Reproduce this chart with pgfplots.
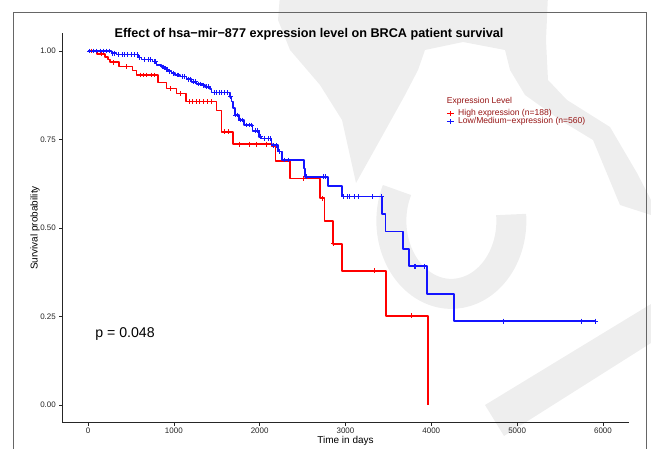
\documentclass[border=0pt]{standalone}
\usepackage{fontspec}
\setmainfont{Liberation Sans}
\usepackage{pgfplots}
\pgfplotsset{compat=1.18}
\definecolor{legred}{RGB}{150,20,20}
\definecolor{wmgray}{RGB}{238,238,238}
\definecolor{kmred}{RGB}{255,0,0}
\definecolor{kmblue}{RGB}{20,20,255}

\pgfplotstableread{
t s
0 1.0
108 0.992
200 0.984
236 0.976
256 0.968
364 0.956
519 0.945
566 0.932
818 0.911
915 0.894
1031 0.880
1140 0.857
1496 0.832
1555 0.772
1690 0.737
2140 0.730
2186 0.690
2355 0.640
2706 0.584
2756 0.519
2853 0.455
2961 0.379
3473 0.252
3965 0.0
}\highexpr

\pgfplotstableread{
t s
0 1.0
275 0.994
333 0.990
585 0.982
624 0.976
752 0.970
798 0.960
857 0.955
895 0.948
934 0.943
973 0.937
1012 0.932
1070 0.928
1147 0.920
1205 0.913
1264 0.907
1330 0.903
1360 0.899
1419 0.892
1438 0.883
1651 0.871
1670 0.857
1690 0.838
1709 0.819
1759 0.805
1814 0.791
1915 0.775
1992 0.758
2019 0.753
2136 0.734
2213 0.716
2263 0.692
2515 0.668
2531 0.645
2794 0.619
2961 0.589
3426 0.540
3465 0.490
3670 0.440
3740 0.392
3948 0.314
4267 0.237
5915 0.237
}\lowexpr

\pgfplotsset{
  kmcurve/.style={solid, const plot, no markers, line width=1.7bp, line join=round},
  censor/.style={only marks, mark=+, mark size=2.4bp, line width=0.9bp, forget plot},
}

\begin{document}
\begin{tikzpicture}
% light watermark behind the chart
\fill[wmgray] (356bp,-183bp) -- (342bp,-120bp) -- (320bp,-85bp) -- (290bp,-50bp) -- (278bp,-20bp)
  -- (280bp,5bp) -- (548bp,5bp) -- (546bp,-40bp) -- (548bp,-80bp) -- (567bp,-100bp) -- (610bp,-127bp)
  -- (637bp,-173bp) -- (651bp,-200bp) -- (651bp,-215bp) -- (620bp,-205bp) -- (593bp,-140bp)
  -- (560bp,-120bp) -- (525bp,-95bp) -- (510bp,-70bp) -- (505bp,-50bp) -- (463bp,-42bp)
  -- (425bp,-50bp) -- (418bp,-70bp) -- (405bp,-95bp) -- (380bp,-140bp) -- cycle;
\draw[wmgray, line width=30bp] (397bp,-190bp) arc[start angle=155, end angle=365, x radius=60bp, y radius=73bp];
\fill[wmgray] (485bp,-405bp) -- (651bp,-304bp) -- (651bp,-343bp) -- (504bp,-436bp) -- cycle;
% outer frame of the figure
\draw[black!60, line width=0.9bp] (13bp,-470bp) -- (13bp,-12bp) -- (646bp,-12bp) -- (646bp,-470bp);

\begin{axis}[
  at={(62.3bp,-422.7bp)}, anchor=south west,
  scale only axis, width=566.4bp, height=389.4bp,
  xmin=-300, xmax=6300, ymin=-0.05, ymax=1.05,
  axis x line=bottom, axis y line=left,
  axis line style={-, black!85, line width=0.6bp},
  xtick={0,1000,...,6000}, ytick={0,0.25,0.5,0.75,1},
  tick align=outside, major tick length=3bp,
  tick style={black!85, line width=0.6bp},
  ticklabel style={font=\fontsize{8}{9}\selectfont, text=black!85},
  /pgf/number format/assume math mode=true,
  scaled ticks=false,
  x tick label style={yshift=1bp, /pgf/number format/set thousands separator={}},
  y tick label style={/pgf/number format/.cd, fixed, fixed zerofill, precision=2},
  clip=false,
  legend style={at={(0.6774,0.807)}, anchor=north west, draw=none, fill=none,
    font=\fontsize{8.6}{9}\selectfont, text=legred, inner sep=0pt, row sep=-1bp,
    nodes={inner sep=0.8bp}},
  legend cell align=left,
  legend image code/.code={\draw[mark repeat=2, mark phase=2, #1, mark=+, mark size=2.2bp, line width=1.2bp]
     plot coordinates {(0bp,0bp) (3.5bp,0bp) (7bp,0bp)};},
]
% censored observations
\addplot[kmred, censor] coordinates {
 (40,1.0) (160,0.992) (300,0.968) (450,0.956) (605,0.932) (640,0.932)
 (686,0.932) (744,0.932) (779,0.932) (960,0.894) (1080,0.880) (1186,0.857)
 (1221,0.857) (1267,0.857) (1302,0.857) (1349,0.857) (1395,0.857)
 (1442,0.857) (1593,0.772) (1640,0.772) (1760,0.737) (1884,0.737)
 (1962,0.737) (2080,0.737) (2512,0.640) (2730,0.584) (2860,0.455)
 (3337,0.379) (3763,0.252)};
\addplot[kmblue, censor] coordinates {
 (20,1.0) (60,1.0) (100,1.0) (140,1.0) (180,1.0) (220,1.0) (250,1.0)
 (290,0.994) (310,0.994) (360,0.990) (400,0.990) (430,0.990) (460,0.990)
 (500,0.990) (540,0.990) (570,0.990) (600,0.982) (660,0.976) (700,0.976)
 (730,0.976) (770,0.970) (785,0.970) (870,0.955) (880,0.955) (910,0.948)
 (920,0.948) (950,0.943) (990,0.937) (1040,0.932) (1055,0.932)
 (1100,0.928) (1120,0.928) (1170,0.920) (1190,0.920) (1230,0.913)
 (1250,0.913) (1290,0.907) (1310,0.907) (1340,0.903) (1380,0.899)
 (1400,0.899) (1470,0.883) (1500,0.883) (1530,0.883) (1560,0.883)
 (1590,0.883) (1620,0.883) (1660,0.871) (1720,0.819) (1740,0.819)
 (1780,0.805) (1800,0.805) (1850,0.791) (1880,0.791) (1900,0.791)
 (1950,0.775) (1975,0.775) (2005,0.758) (2060,0.753) (2100,0.753)
 (2120,0.753) (2160,0.734) (2190,0.734) (2230,0.716) (2290,0.692)
 (2340,0.692) (2540,0.645) (2748,0.645) (2767,0.645) (2977,0.589)
 (3020,0.589) (3047,0.589) (3105,0.589) (3155,0.589) (3317,0.589)
 (3420,0.589) (3802,0.392) (3814,0.392) (3919,0.392) (4837,0.237)
 (5752,0.237) (5915,0.237)};
% survival curves
\addplot[kmred, kmcurve] table[x=t, y=s] {\highexpr};
\addlegendentry{\hspace{3bp}High expression (n=188)}
\addplot[kmblue, kmcurve] table[x=t, y=s] {\lowexpr};
\addlegendentry{\hspace{3bp}Low/Medium−expression (n=560)}
\node[anchor=base west, inner sep=0pt, font=\fontsize{14.2}{16}\selectfont] at (axis cs:82,0.19) {p = 0.048};
\end{axis}

\node[anchor=base, inner sep=0pt, font=\fontsize{12.7}{14}\selectfont\bfseries] at (309bp,-37bp)
  {Effect of hsa−mir−877 expression level on BRCA patient survival};
\node[anchor=west, inner sep=0pt, text=legred, font=\fontsize{8.6}{10}\selectfont] at (446.7bp,-101bp) {Expression Level};
\node[inner sep=0pt, font=\fontsize{10}{12}\selectfont] at (345.5bp,-440.5bp) {Time in days};
\node[inner sep=0pt, rotate=90, font=\fontsize{10}{12}\selectfont] at (35bp,-228bp) {Survival probability};

\pgfresetboundingbox
\path[use as bounding box] (0bp,0bp) rectangle (651bp,-449bp);
\end{tikzpicture}
\end{document}
